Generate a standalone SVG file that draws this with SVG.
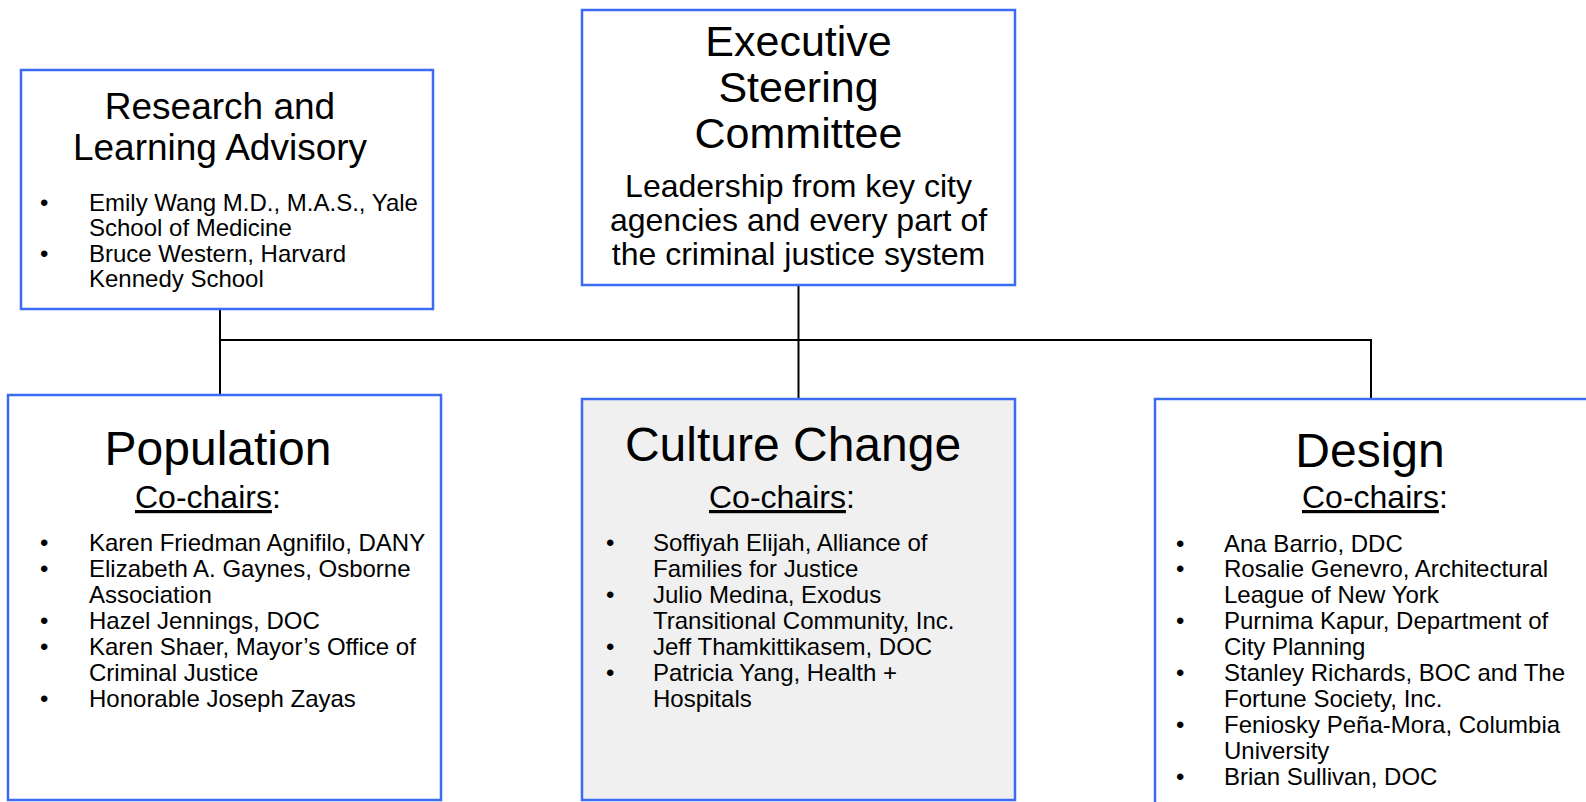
<svg xmlns="http://www.w3.org/2000/svg" width="1586" height="802" viewBox="0 0 1586 802">
<style>
.box{fill:#ffffff;stroke:#3a6bf2;stroke-width:2.5}
.grey{fill:#f0f0f0}
.t{font-family:"Liberation Sans",Arial,sans-serif;fill:#000}
.h36{font-size:37px}
.h42{font-size:43px}
.h48{font-size:48px}
.sub{font-size:32px}
.b{font-size:24px}
.c{text-anchor:middle}
.conn{stroke:#000;stroke-width:2;fill:none}
</style>
<rect width="1586" height="802" fill="#ffffff"/>
<g id="connectors">
<line class="conn" x1="220" y1="309" x2="220" y2="395"/>
<line class="conn" x1="798.5" y1="285" x2="798.5" y2="399"/>
<line class="conn" x1="219" y1="340" x2="1372" y2="340"/>
<line class="conn" x1="1371" y1="340" x2="1371" y2="399"/>
</g>
<g id="research">
<rect class="box" x="21" y="70" width="412" height="239"/>
<text class="t h36 c" x="220" y="119">Research and</text>
<text class="t h36 c" x="220" y="160">Learning Advisory</text>
<g class="t b">
<text x="40" y="211">•</text><text x="89" y="211">Emily Wang M.D., M.A.S., Yale</text>
<text x="89" y="236">School of Medicine</text>
<text x="40" y="262">•</text><text x="89" y="262">Bruce Western, Harvard</text>
<text x="89" y="287">Kennedy School</text>
</g>
</g>
<g id="executive">
<rect class="box" x="582" y="10" width="433" height="275"/>
<text class="t h42 c" x="798.5" y="56">Executive</text>
<text class="t h42 c" x="798.5" y="102">Steering</text>
<text class="t h42 c" x="798.5" y="148">Committee</text>
<text class="t sub c" x="798.5" y="197">Leadership from key city</text>
<text class="t sub c" x="798.5" y="231">agencies and every part of</text>
<text class="t sub c" x="798.5" y="265">the criminal justice system</text>
</g>
<g id="population">
<rect class="box" x="8" y="395" width="433" height="405"/>
<text class="t h48 c" x="218" y="465">Population</text>
<text class="t sub" x="135" y="508"><tspan text-decoration="underline">Co-chairs</tspan>:</text>
<g class="t b">
<text x="40" y="551">•</text><text x="89" y="551">Karen Friedman Agnifilo, DANY</text>
<text x="40" y="577">•</text><text x="89" y="577">Elizabeth A. Gaynes, Osborne</text>
<text x="89" y="603">Association</text>
<text x="40" y="629">•</text><text x="89" y="629">Hazel Jennings, DOC</text>
<text x="40" y="655">•</text><text x="89" y="655">Karen Shaer, Mayor’s Office of</text>
<text x="89" y="681">Criminal Justice</text>
<text x="40" y="707">•</text><text x="89" y="707">Honorable Joseph Zayas</text>
</g>
</g>
<g id="culture">
<rect class="box grey" x="582" y="399" width="433" height="401"/>
<text class="t h48 c" x="793" y="461">Culture Change</text>
<text class="t sub" x="709" y="508"><tspan text-decoration="underline">Co-chairs</tspan>:</text>
<g class="t b">
<text x="606" y="551">•</text><text x="653" y="551">Soffiyah Elijah, Alliance of</text>
<text x="653" y="577">Families for Justice</text>
<text x="606" y="603">•</text><text x="653" y="603">Julio Medina, Exodus</text>
<text x="653" y="629">Transitional Community, Inc.</text>
<text x="606" y="655">•</text><text x="653" y="655">Jeff Thamkittikasem, DOC</text>
<text x="606" y="681">•</text><text x="653" y="681">Patricia Yang, Health +</text>
<text x="653" y="707">Hospitals</text>
</g>
</g>
<g id="design">
<rect class="box" x="1155" y="399" width="440" height="415"/>
<text class="t h48 c" x="1370" y="467">Design</text>
<text class="t sub" x="1302" y="508"><tspan text-decoration="underline">Co-chairs</tspan>:</text>
<g class="t b">
<text x="1176" y="552">•</text><text x="1224" y="552">Ana Barrio, DDC</text>
<text x="1176" y="577">•</text><text x="1224" y="577">Rosalie Genevro, Architectural</text>
<text x="1224" y="603">League of New York</text>
<text x="1176" y="629">•</text><text x="1224" y="629">Purnima Kapur, Department of</text>
<text x="1224" y="655">City Planning</text>
<text x="1176" y="681">•</text><text x="1224" y="681">Stanley Richards, BOC and The</text>
<text x="1224" y="707">Fortune Society, Inc.</text>
<text x="1176" y="733">•</text><text x="1224" y="733">Feniosky Peña-Mora, Columbia</text>
<text x="1224" y="759">University</text>
<text x="1176" y="785">•</text><text x="1224" y="785">Brian Sullivan, DOC</text>
</g>
</g>
</svg>
